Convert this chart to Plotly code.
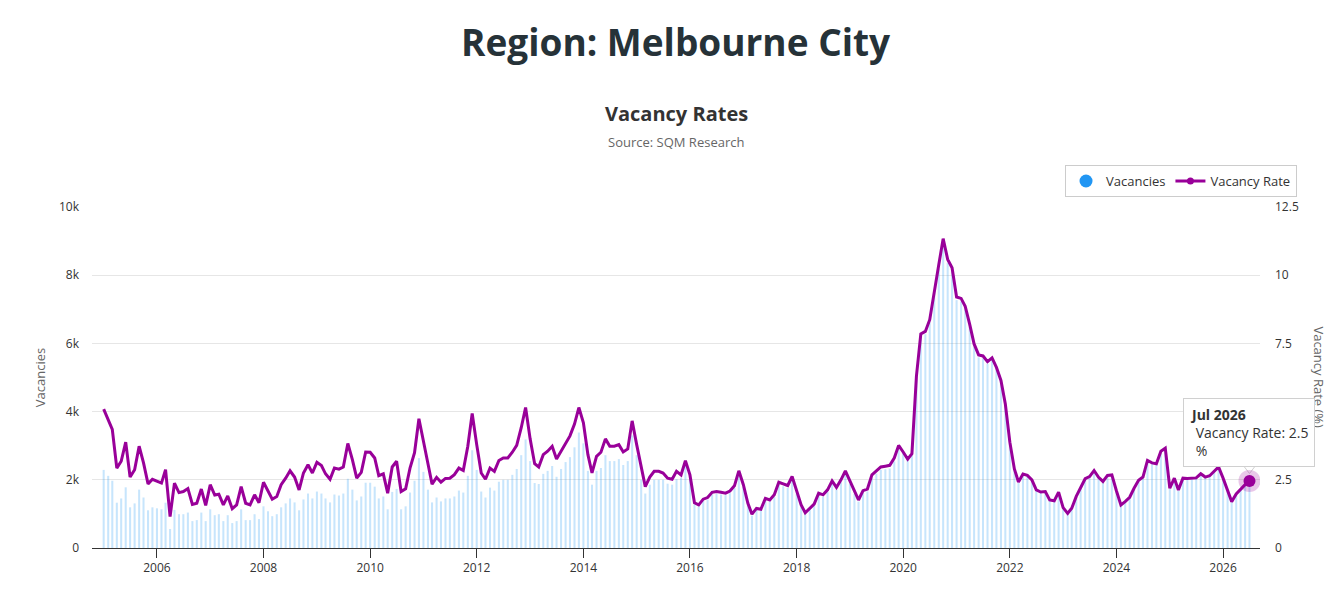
import pandas as pd
import plotly.graph_objects as go

# monthly, Jan 2005 .. Jul 2026
months = pd.date_range("2005-01-01", periods=259, freq="MS")

vacancy_rate = [
    5.09, 4.72, 4.35, 2.93, 3.18, 3.88, 2.60, 2.87, 3.73, 3.12, 2.35, 2.52,
    2.44, 2.38, 2.87, 1.15, 2.38, 2.03, 2.07, 2.18, 1.60, 1.64, 2.16, 1.56,
    2.32, 1.94, 1.97, 1.58, 1.91, 1.44, 1.58, 2.25, 1.64, 1.58, 1.95, 1.66,
    2.41, 2.10, 1.79, 1.89, 2.32, 2.56, 2.83, 2.60, 2.13, 2.75, 3.05, 2.75,
    3.14, 3.02, 2.72, 2.52, 2.93, 2.89, 2.97, 3.83, 3.24, 2.56, 2.77, 3.52,
    3.51, 3.30, 2.65, 2.72, 2.01, 2.97, 3.18, 2.07, 2.17, 2.93, 3.49, 4.74,
    3.98, 3.09, 2.34, 2.59, 2.41, 2.55, 2.56, 2.69, 2.93, 2.84, 3.73, 4.93,
    3.79, 2.75, 2.52, 2.93, 2.81, 3.21, 3.30, 3.30, 3.51, 3.76, 4.41, 5.15,
    4.00, 3.09, 2.97, 3.42, 3.55, 3.73, 3.26, 3.55, 3.82, 4.11, 4.54, 5.15,
    4.59, 3.42, 2.75, 3.36, 3.51, 4.00, 3.73, 3.73, 3.79, 3.52, 3.63, 4.66,
    3.79, 2.97, 2.25, 2.60, 2.81, 2.81, 2.75, 2.56, 2.52, 2.81, 2.68, 3.20,
    2.68, 1.66, 1.58, 1.79, 1.85, 2.04, 2.07, 2.04, 2.01, 2.09, 2.28, 2.83,
    2.32, 1.64, 1.24, 1.45, 1.42, 1.82, 1.76, 1.95, 2.41, 2.35, 2.29, 2.62,
    2.07, 1.58, 1.29, 1.45, 1.61, 2.01, 1.95, 2.13, 2.46, 2.22, 2.50, 2.83,
    2.44, 2.07, 1.76, 2.10, 2.16, 2.68, 2.83, 2.97, 3.00, 3.03, 3.30, 3.76,
    3.52, 3.26, 3.46, 6.30, 7.85, 7.94, 8.37, 9.45, 10.38, 11.34, 10.58, 10.27,
    9.20, 9.15, 8.86, 8.20, 7.48, 7.08, 7.04, 6.83, 6.97, 6.62, 6.14, 5.28,
    3.88, 2.90, 2.42, 2.71, 2.66, 2.50, 2.13, 2.05, 2.07, 1.76, 1.73, 2.05,
    1.48, 1.27, 1.46, 1.89, 2.19, 2.54, 2.62, 2.84, 2.59, 2.44, 2.66, 2.68,
    2.10, 1.58, 1.70, 1.86, 2.19, 2.48, 2.60, 3.21, 3.12, 3.09, 3.55, 3.66,
    2.19, 2.56, 2.13, 2.56, 2.55, 2.55, 2.57, 2.72, 2.60, 2.65, 2.81, 2.97,
    2.56, 2.13, 1.70, 1.98, 2.16, 2.32, 2.46,
]

vacancies = [
    2290, 2116, 1972, 1328, 1453, 1780, 1193, 1308, 1712, 1481, 1106, 1193,
    1164, 1135, 1328, 558, 1116, 991, 991, 1039, 789, 818, 1039, 789,
    1135, 962, 991, 789, 962, 731, 789, 1135, 818, 818, 991, 847,
    1222, 1077, 933, 991, 1193, 1308, 1453, 1337, 1106, 1424, 1597, 1453,
    1655, 1597, 1453, 1337, 1568, 1539, 1597, 2030, 1712, 1395, 1510, 1914,
    1914, 1799, 1453, 1510, 1135, 1645, 1732, 1135, 1222, 1626, 1972, 2636,
    2232, 1712, 1337, 1481, 1366, 1453, 1453, 1510, 1684, 1626, 2116, 2867,
    2290, 1655, 1481, 1770, 1684, 1943, 2001, 2001, 2145, 2318, 2722, 3184,
    2549, 1905, 1876, 2174, 2261, 2405, 2088, 2318, 2520, 2665, 2953, 3386,
    3069, 2261, 1857, 2261, 2347, 2722, 2549, 2549, 2607, 2434, 2549, 3300,
    2722, 2001, 1597, 1857, 2001, 2001, 2001, 1886, 1857, 2020, 2060, 2460,
    2060, 1280, 1220, 1380, 1420, 1570, 1590, 1570, 1550, 1610, 1760, 2180,
    1790, 1260, 950, 1120, 1090, 1400, 1360, 1500, 1860, 1810, 1760, 2020,
    1590, 1220, 990, 1120, 1240, 1550, 1500, 1640, 1890, 1710, 1930, 2180,
    1880, 1590, 1360, 1620, 1660, 2060, 2180, 2290, 2310, 2330, 2540, 2900,
    2780, 2580, 2730, 4980, 6200, 6270, 6610, 7470, 8200, 8960, 8360, 8110,
    7270, 7230, 7000, 6480, 5910, 5590, 5560, 5400, 5510, 5230, 4850, 4170,
    3070, 2290, 1910, 2140, 2100, 1980, 1680, 1620, 1640, 1390, 1370, 1620,
    1170, 1000, 1150, 1490, 1730, 2010, 2070, 2240, 2050, 1930, 2100, 2120,
    1660, 1250, 1340, 1470, 1730, 1960, 2050, 2540, 2460, 2440, 2800, 2890,
    1730, 2020, 1680, 2020, 2010, 2010, 2030, 2150, 2050, 2090, 2220, 2350,
    2020, 1680, 1340, 1560, 1710, 1830, 1940,
]

left_ticks = [0, 2000, 4000, 6000, 8000, 10000]
left_labels = ["0", "2k", "4k", "6k", "8k", "10k"]
right_ticks = [0, 2.5, 5, 7.5, 10, 12.5]
right_labels = ["0", "2.5", "5", "7.5", "10", "12.5"]

FONT = "Open Sans"
PURPLE = "#990099"
BLUE = "#2196f3"

fig = go.Figure()

fig.add_trace(
    go.Bar(
        x=months,
        y=vacancies,
        marker=dict(color="rgba(33,150,243,0.25)", line_width=0),
        name="Vacancies",
        showlegend=False,
    )
)

fig.add_trace(
    go.Scatter(
        x=months,
        y=vacancy_rate,
        yaxis="y2",
        mode="lines",
        line=dict(color=PURPLE, width=3),
        name="Vacancy Rate",
        showlegend=False,
    )
)

# tooltip pointer
fig.add_trace(
    go.Scatter(
        x=[months[-1]],
        y=[2.95],
        yaxis="y2",
        mode="markers",
        marker=dict(symbol="triangle-down", size=12, color="white",
                    line=dict(color="#d0d0d0", width=1)),
        showlegend=False,
        hoverinfo="skip",
    )
)

# hovered point (last month) with halo
fig.add_trace(
    go.Scatter(
        x=[months[-1]],
        y=[vacancy_rate[-1]],
        yaxis="y2",
        mode="markers",
        marker=dict(size=22, color="rgba(153,0,153,0.22)"),
        showlegend=False,
        hoverinfo="skip",
    )
)
fig.add_trace(
    go.Scatter(
        x=[months[-1]],
        y=[vacancy_rate[-1]],
        yaxis="y2",
        mode="markers",
        marker=dict(size=12, color=PURPLE),
        showlegend=False,
        hoverinfo="skip",
    )
)

# legend-only entries
fig.add_trace(
    go.Scatter(
        x=[None], y=[None], mode="markers", name="Vacancies",
        marker=dict(size=13, color=BLUE),
    )
)
fig.add_trace(
    go.Scatter(
        x=[None], y=[None], mode="lines+markers", name="Vacancy Rate",
        line=dict(color=PURPLE, width=3), marker=dict(size=7, color=PURPLE),
    )
)

# the page body has an 8px margin, so the figure is sized to fit inside it
fig.update_layout(
    width=1327,
    height=591,
    margin=dict(l=84, r=75, t=199, b=51),
    paper_bgcolor="white",
    plot_bgcolor="white",
    font=dict(family=FONT, size=12, color="#333333"),
    bargap=0.5,
    xaxis=dict(
        type="date",
        range=["2004-10-13", "2026-09-11"],
        tick0="2006-01-01",
        dtick="M24",
        tickformat="%Y",
        showgrid=False,
        showline=True,
        linecolor="#333333",
        linewidth=1,
        ticks="outside",
        ticklen=9,
        tickcolor="#333333",
        tickfont=dict(size=12, color="#333333"),
        automargin=False,
    ),
    yaxis=dict(
        range=[0, 10000],
        tickvals=left_ticks,
        ticktext=left_labels,
        showgrid=True,
        gridcolor="#e6e6e6",
        zeroline=False,
        ticks="",
        ticklabelstandoff=12,
        tickfont=dict(size=12, color="#333333"),
        title=dict(text="Vacancies", font=dict(size=13, color="#666666"), standoff=10),
        automargin=False,
    ),
    yaxis2=dict(
        range=[0, 12.5],
        overlaying="y",
        side="right",
        tickvals=right_ticks,
        ticktext=right_labels,
        showgrid=False,
        zeroline=False,
        ticklabelstandoff=14,
        tickfont=dict(size=12, color="#333333"),
        automargin=False,
    ),
    legend=dict(
        orientation="h",
        x=1.0317,
        xanchor="right",
        y=1.123,
        yanchor="top",
        bgcolor="white",
        bordercolor="#cccccc",
        borderwidth=1,
        font=dict(size=13, color="#333333"),
    ),
    hovermode=False,
)

annotations = [
    dict(text="<b>Region: Melbourne City</b>", x=0.5, y=1.484, xref="paper", yref="paper",
         yanchor="middle", showarrow=False, font=dict(size=37, color="#263238", family=FONT)),
    dict(text="<b>Vacancy Rates</b>", x=0.5, y=1.273, xref="paper", yref="paper",
         yanchor="middle", showarrow=False, font=dict(size=20, color="#333333", family=FONT)),
    dict(text="Source: SQM Research", x=0.5, y=1.19, xref="paper", yref="paper",
         yanchor="middle", showarrow=False, font=dict(size=13, color="#666666", family=FONT)),
    dict(text="Vacancy Rate (%)", x=1.06, y=0.5, xref="paper", yref="paper",
         textangle=90, showarrow=False, font=dict(size=13, color="#666666", family=FONT)),
    dict(text="<b>Jul 2026</b><br> Vacancy Rate: 2.5<br> %", x=months[-1], y=vacancy_rate[-1],
         xref="x", yref="y2", yanchor="bottom", yshift=14, showarrow=False, align="left",
         bgcolor="white", bordercolor="#d0d0d0", borderwidth=1, borderpad=6,
         font=dict(size=14, color="#333333", family=FONT)),
]
fig.update_layout(annotations=annotations)

fig.write_html("out.html")
